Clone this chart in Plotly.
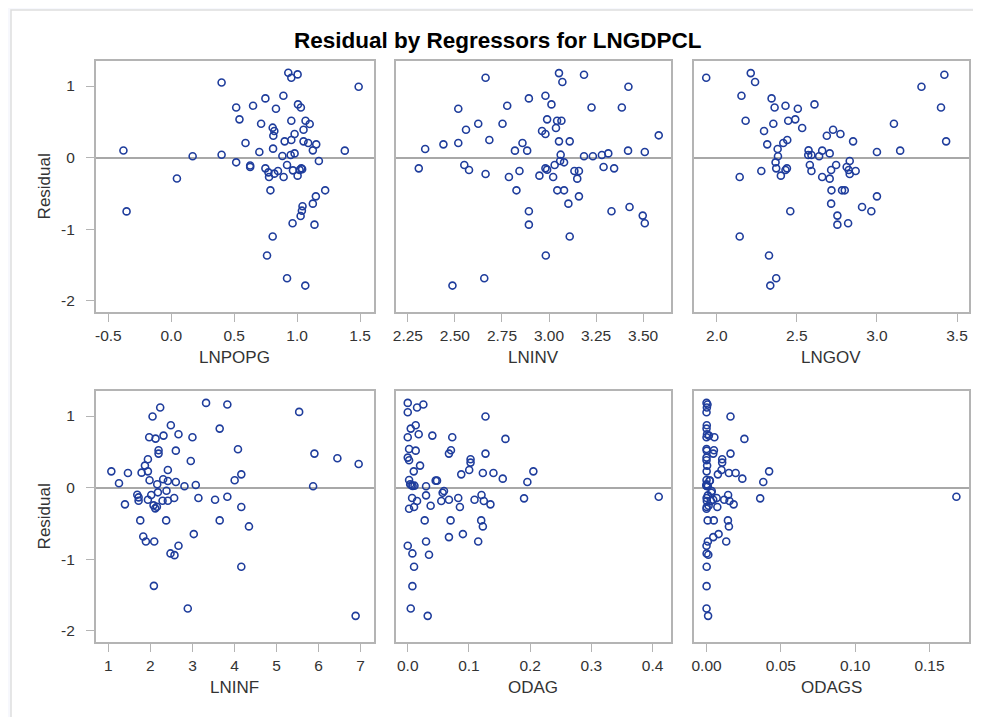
import plotly.graph_objects as go

# ---------------- data ----------------
lnpopg_x = [-0.38, -0.355, 0.045, 0.17, 0.40, 0.40, 0.516, 0.542, 0.516, 0.59, 0.627, 0.627, 0.65, 0.70, 0.714,
            0.748, 0.748, 0.772, 0.777, 0.819, 0.848, 0.788, 0.806, 0.761, 0.806, 0.811, 0.819, 0.809, 0.832, 0.891,
            0.883, 0.901, 0.893, 0.92, 0.92, 0.93, 0.954, 0.954, 0.954, 0.949, 0.967, 0.98, 0.98, 0.964, 1.004,
            1.004, 1.007, 1.03, 1.02, 1.033, 1.04, 1.043, 1.038, 1.028, 1.051, 1.051, 1.067, 1.065, 1.10, 1.088,
            1.125, 1.152, 1.125, 1.138, 1.149, 1.173, 1.223, 1.379, 1.489]
lnpopg_y = [0.10, -0.75, -0.29, 0.02, 1.05, 0.04, 0.70, 0.535, -0.065, 0.205, -0.11, -0.13, 0.726, 0.079, 0.474,
            0.828, -0.149, -0.205, -0.27, -0.223, -0.186, -0.456, -1.10, -1.367, 0.419, 0.307, 0.372, 0.126, 0.684, 0.865,
            0.023, 0.228, -0.27, -0.102, -1.684, 1.186, 1.116, 0.516, 0.247, 0.037, -0.177, 0.33, 0.06, -0.916, 1.163,
            -0.251, 0.744, 0.70, -0.172, -0.149, -0.16, -0.679, -0.74, -0.814, 0.391, 0.228, 0.516, -1.786, 0.47, 0.205,
            0.102, 0.186, -0.642, -0.935, -0.54, -0.047, -0.456, 0.098, 0.991]

lninv_x = [2.308, 2.342, 2.439, 2.487, 2.518, 2.518, 2.55, 2.575, 2.559, 2.624, 2.663, 2.663, 2.656, 2.683, 2.753,
           2.778, 2.787, 2.819, 2.827, 2.843, 2.859, 2.884, 2.893, 2.893, 2.893, 2.949, 2.963, 2.981, 2.981, 2.981,
           2.99, 2.983, 2.99, 3.013, 3.022, 3.03, 3.037, 3.043, 3.066, 3.044, 3.08, 3.053, 3.053, 3.071, 3.062,
           3.059, 3.08, 3.103, 3.11, 3.11, 3.135, 3.159, 3.15, 3.159, 3.186, 3.186, 3.226, 3.233, 3.281, 3.29,
           3.315, 3.332, 3.346, 3.387, 3.422, 3.42, 3.428, 3.498, 3.509, 3.509, 3.583]
lninv_y = [-0.149, 0.121, 0.186, -1.786, 0.684, 0.205, -0.102, -0.172, 0.391, 0.474, 1.116, -0.228, -1.684, 0.247, 0.474,
           0.726, -0.27, 0.098, -0.456, -0.186, 0.205, 0.098, 0.828, -0.749, -0.935, -0.251, 0.372, 0.33, 0.865, -0.149,
           -0.167, -1.367, 0.535, 0.744, -0.27, -0.102, 0.414, 0.516, 0.516, -0.456, -0.456, 0.228, 1.181, 1.056, 0.042,
           -0.047, -0.065, -0.642, 0.228, -1.10, -0.186, -0.186, -0.293, -0.54, 1.158, 0.019, 0.70, 0.019, 0.037, -0.13,
           0.06, -0.749, -0.149, 0.70, 0.991, 0.098, -0.688, -0.809, -0.916, 0.079, 0.312]

lngov_x = [1.934, 2.143, 2.143, 2.154, 2.18, 2.212, 2.239, 2.278, 2.295, 2.315, 2.326, 2.334, 2.371, 2.342, 2.353,
           2.361, 2.367, 2.371, 2.38, 2.382, 2.40, 2.415, 2.429, 2.429, 2.438, 2.44, 2.446, 2.459, 2.49, 2.506,
           2.533, 2.573, 2.571, 2.591, 2.581, 2.591, 2.61, 2.639, 2.658, 2.658, 2.687, 2.705, 2.705, 2.714, 2.716,
           2.714, 2.726, 2.745, 2.753, 2.753, 2.772, 2.782, 2.799, 2.811, 2.824, 2.83, 2.83, 2.82, 2.851, 2.867,
           2.907, 2.965, 3.0, 3.0, 3.106, 3.145, 3.278, 3.40, 3.421, 3.432]
lngov_y = [1.116, -0.27, -1.10, 0.865, 0.516, 1.181, 1.056, -0.186, 0.372, 0.186, -1.367, -1.786, -1.684, 0.828, 0.474,
           0.70, -0.065, -0.149, 0.121, 0.019, -0.251, 0.205, 0.726, -0.172, -0.149, 0.247, 0.516, -0.749, 0.535, 0.684,
           0.414, 0.102, 0.037, 0.037, -0.102, -0.186, 0.744, 0.019, 0.098, -0.27, 0.307, 0.06, -0.293, -0.172, -0.456,
           -0.642, 0.391, -0.102, -0.809, -0.935, 0.33, -0.456, -0.456, -0.13, -0.172, -0.047, -0.228, -0.916, 0.228, -0.186,
           -0.688, -0.749, 0.079, -0.54, 0.474, 0.098, 0.991, 0.70, 1.158, 0.228]

lninf_x = [1.071, 1.253, 1.395, 1.466, 1.688, 1.719, 1.719, 1.759, 1.79, 1.83, 1.87, 1.893, 1.941, 1.941, 1.941,
           1.972, 1.98, 2.02, 2.051, 2.075, 2.091, 2.083, 2.123, 2.115, 2.154, 2.162, 2.178, 2.194, 2.194, 2.233,
           2.289, 2.304, 2.312, 2.375, 2.383, 2.415, 2.415, 2.415, 2.486, 2.478, 2.573, 2.565, 2.605, 2.605, 2.668,
           2.668, 2.81, 2.889, 2.96, 3.0, 3.032, 3.079, 3.142, 3.324, 3.538, 3.648, 3.648, 3.83, 3.83, 4.004,
           4.083, 4.162, 4.162, 4.162, 4.344, 5.538, 5.87, 5.901, 6.447, 6.953, 6.881]
lninf_y = [0.228, 0.061, -0.233, 0.205, -0.098, -0.135, -0.182, -0.457, 0.21, -0.681, 0.308, -0.751, -0.168, 0.228, 0.396,
           0.704, 0.103, -0.103, 0.993, -0.247, -0.751, -1.371, 0.685, -0.289, -0.266, 0.047, -0.065, 0.522, 0.476, 1.119,
           -0.182, 0.117, 0.727, -0.457, -0.042, 0.247, 0.093, -0.182, 0.872, -0.918, -0.942, -0.145, 0.079, 0.517, 0.746,
           -0.811, 0.019, -1.688, 0.373, 0.704, -0.648, 0.037, -0.145, 1.184, -0.168, 0.825, -0.457, 1.161, -0.126, 0.103,
           0.536, 0.186, -0.27, -1.105, -0.541, 1.058, 0.019, 0.476, 0.41, 0.331, -1.79]

odag_x = [0.0, 0.0, 0.0152, 0.0255, 0.127, 0.0049, 0.013, 0.0179, 0.0, 0.0402, 0.0727, 0.1596, 0.0022, 0.013, 0.0706,
          0.0673, 0.127, 0.0, 0.0022, 0.0201, 0.0098, 0.1026, 0.1026, 0.1004, 0.0874, 0.1227, 0.14, 0.1552, 0.2052, 0.1954,
          0.0456, 0.0478, 0.0022, 0.004, 0.008, 0.011, 0.006, 0.0299, 0.0592, 0.057, 0.0299, 0.0071, 0.0152, 0.0103, 0.0022,
          0.0374, 0.0548, 0.0673, 0.0825, 0.0852, 0.1091, 0.1205, 0.1243, 0.1351, 0.19, 0.41, 0.0277, 0.07, 0.12, 0.1227,
          0.0901, 0.0673, 0.0299, 0.1151, 0.0, 0.0076, 0.0347, 0.0103, 0.0076, 0.0049, 0.0326]
odag_y = [1.184, 1.054, 1.119, 1.161, 0.993, 0.825, 0.872, 0.746, 0.704, 0.727, 0.704, 0.681, 0.541, 0.517, 0.522,
          0.476, 0.476, 0.42, 0.382, 0.308, 0.228, 0.396, 0.35, 0.247, 0.186, 0.205, 0.205, 0.126, 0.228, 0.079,
          0.098, 0.098, 0.107, 0.047, 0.023, 0.028, 0.033, 0.019, -0.047, -0.07, -0.107, -0.145, -0.186, -0.27, -0.294,
          -0.252, -0.186, -0.168, -0.145, -0.27, -0.168, -0.103, -0.186, -0.233, -0.149, -0.126, -0.457, -0.457, -0.457, -0.541,
          -0.648, -0.69, -0.751, -0.751, -0.811, -0.918, -0.937, -1.105, -1.375, -1.688, -1.79]

odags_x = [0.0, 0.0, 0.00023, 0.00065, 0.01613, 0.00002, 0.00017, 0.00032, 0.0, 0.00162, 0.00529, 0.02547, 0.0, 0.00017, 0.00498,
           0.00453, 0.01613, 0.0, 0.0, 0.0004, 0.0001, 0.01053, 0.01053, 0.01008, 0.00764, 0.01506, 0.0196, 0.02409, 0.04211, 0.03818,
           0.00208, 0.00228, 0.0, 0.00002, 0.00006, 0.00012, 0.00004, 0.00089, 0.0035, 0.00325, 0.00089, 0.00005, 0.00023, 0.00011, 0.0,
           0.0014, 0.003, 0.00453, 0.00681, 0.00726, 0.0119, 0.01452, 0.01545, 0.01825, 0.0361, 0.1681, 0.00077, 0.0049, 0.0144, 0.01506,
           0.00812, 0.00453, 0.00089, 0.01325, 0.0, 0.00006, 0.0012, 0.00011, 0.00006, 0.00002, 0.00106]
odags_y = odag_y

panel_names = ["LNPOPG", "LNINV", "LNGOV", "LNINF", "ODAG", "ODAGS"]
panel_x = [lnpopg_x, lninv_x, lngov_x, lninf_x, odag_x, odags_x]
panel_y = [lnpopg_y, lninv_y, lngov_y, lninf_y, odag_y, odags_y]
x_ranges = [[-0.60, 1.61], [2.186, 3.648], [1.857, 3.575], [0.70, 7.315], [-0.0195, 0.43], [-0.0085, 0.1766]]
x_tickvals = [[-0.5, 0, 0.5, 1.0, 1.5], [2.25, 2.5, 2.75, 3.0, 3.25, 3.5], [2.0, 2.5, 3.0, 3.5],
              [1, 2, 3, 4, 5, 6, 7], [0, 0.1, 0.2, 0.3, 0.4], [0, 0.05, 0.10, 0.15]]
x_ticktext = [["-0.5", "0.0", "0.5", "1.0", "1.5"], ["2.25", "2.50", "2.75", "3.00", "3.25", "3.50"],
              ["2.0", "2.5", "3.0", "3.5"], ["1", "2", "3", "4", "5", "6", "7"],
              ["0.0", "0.1", "0.2", "0.3", "0.4"], ["0.00", "0.05", "0.10", "0.15"]]
y_tickvals = [-2, -1, 0, 1]
y_ticktext = ["-2", "-1", "0", "1"]
y_range = [-2.155, 1.35]
title_text = "Residual by Regressors for LNGDPCL"
y_title = "Residual"

# ---------------- layout geometry (screen pixels; page body adds 8px offset) ----------------
BODY = 8
W, H = 981 - BODY, 717 - BODY
SX0, SY0 = 8, 10            # screen position of the white panel's top-left corner
PW, PH = 981 - SX0, 717 - SY0
def px_x(p):
    return (p - SX0) / PW
def px_y(p):
    return (717 - p) / PH

col_px = [(93, 372), (394, 670), (693, 969)]
row_px = [(61, 312), (391, 642)]

FONT = "Liberation Sans, Arial, sans-serif"
MARK = "#1f3d9c"
FRAME = "#b4b4b4"
TXT = "#333333"

fig = go.Figure()
layout = dict(
    width=W, height=H,
    margin=dict(l=SX0 - BODY, r=0, t=SY0 - BODY, b=0, pad=0),
    paper_bgcolor="#f7f8fd",
    plot_bgcolor="white",
    showlegend=False,
    font=dict(family=FONT, color=TXT, size=15),
)
annotations = []
for i in range(6):
    r, c = divmod(i, 3)
    n = "" if i == 0 else str(i + 1)
    fig.add_trace(go.Scatter(
        x=panel_x[i], y=panel_y[i], mode="markers",
        xaxis="x" + n, yaxis="y" + n,
        marker=dict(symbol="circle-open", size=7, color=MARK, line=dict(width=1.6, color=MARK)),
        hoverinfo="x+y",
    ))
    cx0, cx1 = col_px[c]
    ry0, ry1 = row_px[r]
    layout["xaxis" + n] = dict(
        domain=[px_x(cx0), px_x(cx1)], anchor="y" + n, range=x_ranges[i],
        tickvals=x_tickvals[i], ticktext=x_ticktext[i], ticks="outside", ticklen=8,
        tickcolor=FRAME, tickwidth=1, showline=True, mirror=True, linecolor=FRAME, linewidth=1.5,
        showgrid=False, zeroline=False, ticklabelstandoff=1,
        tickfont=dict(size=15.5, color=TXT),
    )
    layout["yaxis" + n] = dict(
        domain=[px_y(ry1), px_y(ry0)], anchor="x" + n, range=y_range,
        tickvals=y_tickvals, ticktext=y_ticktext,
        ticks="outside" if c == 0 else "", ticklen=8, tickcolor=FRAME, tickwidth=1,
        showticklabels=(c == 0), showline=True, mirror=True, linecolor=FRAME, linewidth=1.5,
        showgrid=False, zeroline=True, zerolinecolor="#a8a8a8", zerolinewidth=1.5,
        ticklabelstandoff=8, tickfont=dict(size=15.5, color=TXT),
    )
    annotations.append(dict(
        text=panel_names[i], x=px_x((cx0 + cx1) / 2), y=px_y(ry1 + 45),
        xref="paper", yref="paper", showarrow=False, xanchor="center", yanchor="middle",
        font=dict(size=17, color=TXT, family=FONT),
    ))

for r in range(2):
    ry0, ry1 = row_px[r]
    annotations.append(dict(
        text=y_title, x=px_x(42), y=px_y((ry0 + ry1) / 2), xref="paper", yref="paper",
        showarrow=False, textangle=-90, xanchor="center", yanchor="middle",
        font=dict(size=17, color=TXT, family=FONT),
    ))

annotations.append(dict(
    text="<b>" + title_text + "</b>", x=px_x(497), y=px_y(40), xref="paper", yref="paper",
    showarrow=False, xanchor="center", yanchor="middle",
    font=dict(size=22.5, color="black", family=FONT),
))
layout["annotations"] = annotations
layout["shapes"] = [dict(
    type="rect", xref="paper", yref="paper", x0=0, x1=1.01, y0=-0.01, y1=1,
    fillcolor="white", line=dict(color="#dedede", width=1.5), layer="below",
)]
fig.update_layout(**layout)
fig.write_html("out.html")
